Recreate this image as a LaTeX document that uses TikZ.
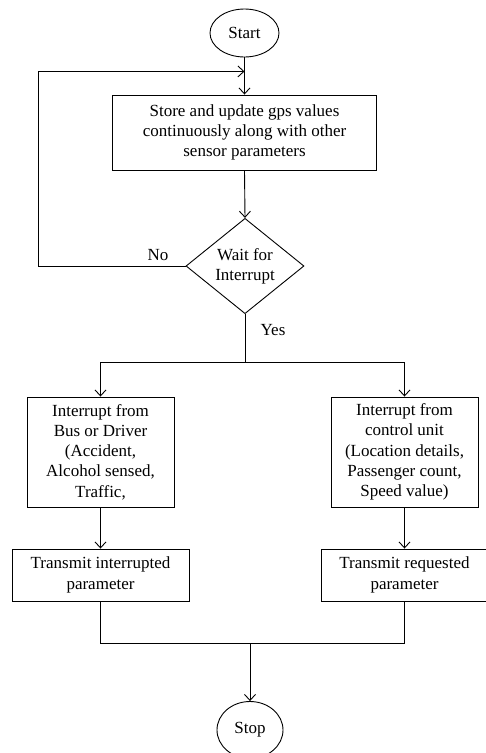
\documentclass[tikz,border=0pt]{standalone}
\usepackage{fontspec}
\setmainfont{Liberation Serif}
\usetikzlibrary{arrows.meta,positioning,shapes.geometric,calc}
\tikzset{
  term/.style={draw, ellipse, inner sep=0pt, font=\fontsize{17}{20.3}\selectfont},
  proc/.style={draw, rectangle, align=center, inner sep=0pt, font=\fontsize{17}{20.3}\selectfont},
  dec/.style={draw, diamond, align=center, inner sep=0pt, minimum width=118pt, minimum height=92pt, font=\fontsize{17}{20.3}\selectfont},
  lbl/.style={font=\fontsize{17}{20}\selectfont, inner sep=0pt},
  flow/.style={-{Straight Barb[length=6pt,width=11pt]}}
}
\begin{document}
\begin{tikzpicture}[x=1pt, y=-1pt, line width=0.9pt]
\useasboundingbox (0,0) rectangle (486,753);
\node[term, minimum width=69pt, minimum height=48pt] (start) at (244.5,33) {Start};
\node[proc, minimum width=264pt, minimum height=75pt] (upd) at (244.5,132.5) {Store and update gps values\\continuously along with other\\sensor parameters};
\node[dec] (wait) at (245,266) {Wait for\\Interrupt};
\node[proc, minimum width=147pt, minimum height=110pt] (bus) at (100.5,452) {Interrupt from\\Bus or Driver\\(Accident,\\Alcohol sensed,\\Traffic,};
\node[proc, minimum width=147pt, minimum height=110pt] (ctl) at (404.5,452) {Interrupt from\\control unit\\(Location details,\\Passenger count,\\Speed value)};
\node[proc, minimum width=177pt, minimum height=52pt] (txi) at (100.5,575) {Transmit interrupted\\parameter};
\node[proc, minimum width=166pt, minimum height=52pt] (txr) at (404.5,575) {Transmit requested\\parameter};
\node[term, minimum width=66pt, minimum height=57pt] (stop) at (250,730) {Stop};
\coordinate (loopin) at ($(start.south)+(0,14)$);
\coordinate (split) at ($(wait.south)+(0,48)$);
\coordinate (merge) at ($(txi.south)+(0,42)$);
\draw[flow] (start.south) -- (upd.north);
\draw[flow] (upd.south) -- (wait.north);
\draw[flow] (wait.west) -- ++(-147,0) |- (loopin);
\draw (wait.south) -- (split);
\draw[flow] (split) -| (bus.north);
\draw[flow] (split) -| (ctl.north);
\draw[flow] (bus.south) -- (txi.north);
\draw[flow] (ctl.south) -- (txr.north);
\draw (txi.south) -- (merge) -| (txr.south);
\draw[flow] (merge -| stop.north) -- (stop.north);
\node[lbl] (no) at (158,255) {No};
\node[lbl] (yes) at (273,330) {Yes};
\end{tikzpicture}
\end{document}
